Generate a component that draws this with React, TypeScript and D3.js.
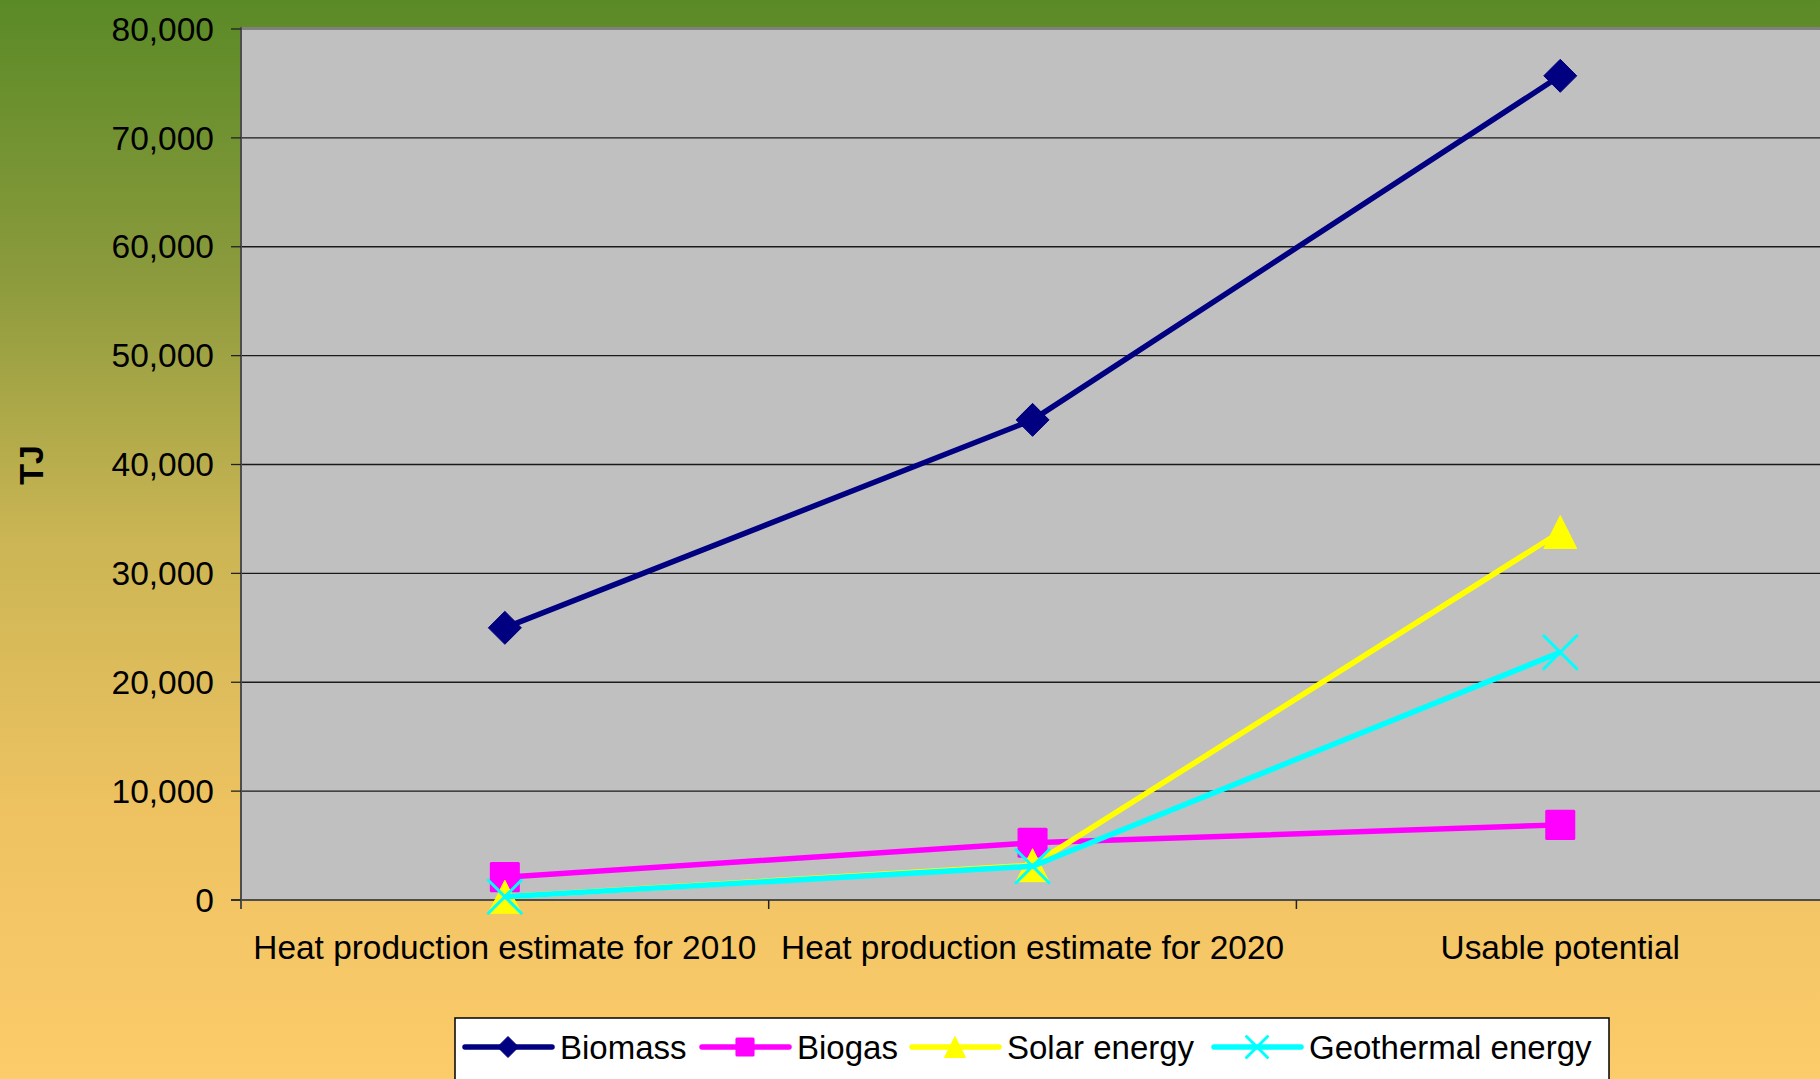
import React from "react";
import * as d3 from "d3";

const categories = [
  "Heat production estimate for 2010",
  "Heat production estimate for 2020",
  "Usable potential",
];
const seriesNames = ["Biomass", "Biogas", "Solar energy", "Geothermal energy"];
const biomass = [25000, 44100, 75700];
const biogas = [2100, 5250, 6900];
const solar = [300, 3200, 33800];
const geothermal = [300, 3100, 22750];
const yTicks = [0, 10000, 20000, 30000, 40000, 50000, 60000, 70000, 80000];
const seriesColors = ["#000080", "#FF00FF", "#FFFF00", "#00FFFF"];
const seriesMarkers = ["diamond", "square", "triangle", "x"];
const yAxisTitle = "TJ";

const W = 1820;
const H = 1079;
const FONT = "'Liberation Sans', Arial, Helvetica, sans-serif";

function Marker({ type, x, y, s, color }: { type: string; x: number; y: number; s: number; color: string }) {
  const h = s / 2;
  if (type === "diamond") {
    return <path d={`M${x},${y - h}L${x + h},${y}L${x},${y + h}L${x - h},${y}Z`} fill={color} stroke={color} strokeWidth={1} strokeLinejoin="round" />;
  }
  if (type === "square") {
    const q = h * 0.91;
    return <rect x={x - q} y={y - q} width={2 * q} height={2 * q} rx={1.5} fill={color} />;
  }
  if (type === "triangle") {
    return <path d={`M${x},${y - h}L${x + h},${y + h}L${x - h},${y + h}Z`} fill={color} stroke={color} strokeWidth={1} strokeLinejoin="round" />;
  }
  return (
    <path
      d={`M${x - h},${y - h}L${x + h},${y + h}M${x - h},${y + h}L${x + h},${y - h}`}
      stroke={color}
      strokeWidth={3}
      strokeLinecap="round"
      fill="none"
    />
  );
}

export default function App() {
  const left = 241;
  const top = 29;
  const bottom = 900;
  const right = 241 + 3 * 527.7;

  const x = d3.scaleBand<string>().domain(categories).range([left, right]).paddingInner(0).paddingOuter(0);
  const y = d3.scaleLinear().domain([0, 80000]).range([bottom, top]);
  const fmt = d3.format(",");

  const allSeries = [biomass, biogas, solar, geothermal];
  const line = d3
    .line<number>()
    .x((_, i) => (x(categories[i]) as number) + x.bandwidth() / 2)
    .y((d) => y(d));

  const legendX = [465, 702, 912, 1214];
  const legendY = 1047;

  return (
    <svg width={W} height={H} style={{ position: "fixed", left: 0, top: 0, display: "block" }} fontFamily={FONT}>
      <defs>
        <linearGradient id="bg" x1="0" y1="0" x2="0" y2="1">
          <stop offset="0" stopColor="#5A8A26" />
          <stop offset="0.25" stopColor="#8A9A3C" />
          <stop offset="0.5" stopColor="#CBB554" />
          <stop offset="0.75" stopColor="#EEC261" />
          <stop offset="1" stopColor="#FCCB6A" />
        </linearGradient>
      </defs>
      <rect x={0} y={0} width={W} height={H} fill="url(#bg)" />
      <rect x={left} y={top} width={W - left + 10} height={bottom - top} fill="#C0C0C0" />
      {yTicks.slice(1, -1).map((t) => (
        <line key={t} x1={left} x2={W} y1={y(t)} y2={y(t)} stroke="#1a1a1a" strokeWidth={1.3} />
      ))}
      <line x1={left} x2={W} y1={top - 0.5} y2={top - 0.5} stroke="#808080" strokeWidth={3} />
      <line x1={left} x2={left} y1={top - 2} y2={bottom + 9} stroke="#4d4d4d" strokeWidth={2} />
      <line x1={left - 10} x2={W} y1={bottom} y2={bottom} stroke="#4d4d4d" strokeWidth={2} />
      {yTicks.map((t) => (
        <g key={t}>
          <line x1={left - 10} x2={left} y1={y(t)} y2={y(t)} stroke="#222" strokeWidth={1.3} />
          <text x={214} y={y(t)} dy="0.35em" textAnchor="end" fontSize={33.5} fill="#000">
            {fmt(t)}
          </text>
        </g>
      ))}
      {categories.map((c, i) => (
        <g key={c}>
          {i > 0 && (
            <line x1={x(c) as number} x2={x(c) as number} y1={bottom} y2={bottom + 9} stroke="#222" strokeWidth={1.5} />
          )}
          <text x={(x(c) as number) + x.bandwidth() / 2} y={959} textAnchor="middle" fontSize={33.4} fill="#000">
            {c}
          </text>
        </g>
      ))}
      <text
        transform={`translate(43,${465}) rotate(-90)`}
        textAnchor="middle"
        fontSize={34}
        fontWeight="bold"
        fill="#000"
      >
        {yAxisTitle}
      </text>
      {allSeries.map((s, si) => (
        <g key={si}>
          <path d={line(s) || ""} fill="none" stroke={seriesColors[si]} strokeWidth={5.5} strokeLinejoin="round" />
          {s.map((v, i) => (
            <Marker
              key={i}
              type={seriesMarkers[si]}
              x={(x(categories[i]) as number) + x.bandwidth() / 2}
              y={y(v)}
              s={33}
              color={seriesColors[si]}
            />
          ))}
        </g>
      ))}
      <rect x={455} y={1018} width={1154} height={90} fill="#FFFFFF" stroke="#000" strokeWidth={1.5} />
      {seriesNames.map((n, i) => (
        <g key={n}>
          <line x1={legendX[i]} x2={legendX[i] + 87} y1={legendY} y2={legendY} stroke={seriesColors[i]} strokeWidth={5.5} strokeLinecap="round" />
          <Marker type={seriesMarkers[i]} x={legendX[i] + 43} y={legendY} s={21} color={seriesColors[i]} />
          <text x={legendX[i] + 95} y={legendY} dy="0.35em" fontSize={33} fill="#000">
            {n}
          </text>
        </g>
      ))}
    </svg>
  );
}
